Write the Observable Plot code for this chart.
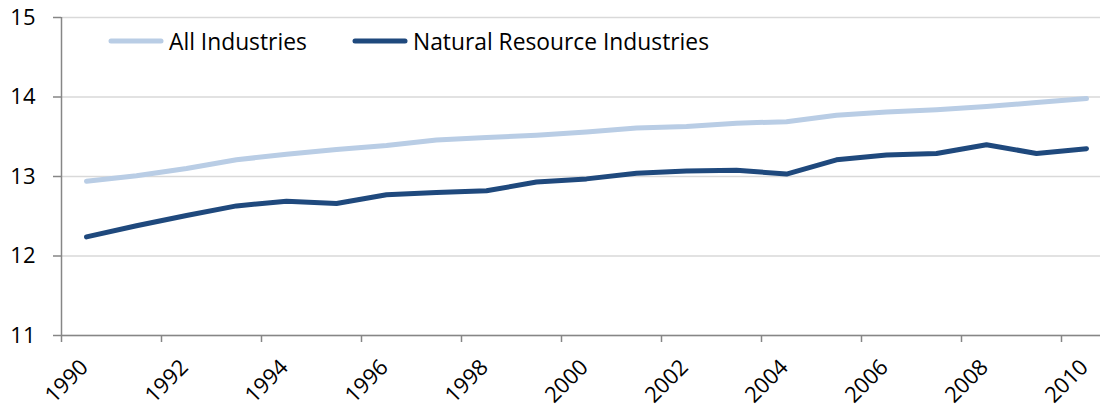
<!DOCTYPE html>
<html>
<head>
<meta charset="utf-8">
<script src="https://cdn.jsdelivr.net/npm/d3@7"></script>
<script src="https://cdn.jsdelivr.net/npm/@observablehq/plot@0.6"></script>
<style>
  html, body { margin: 0; padding: 0; background: #fff; }
  #wrap { position: relative; width: 1100px; height: 410px; font-family: "Open Sans", sans-serif; }
  .legend { position: absolute; top: 26px; left: 0; height: 30px; font-size: 22.8px; color: #000; }
  .item { position: absolute; top: 0; display: flex; align-items: center; height: 30px; white-space: nowrap; }
  .item svg { margin-right: 5px; }
</style>
</head>
<body>
<div id="wrap"></div>
<script>
const years = [1990,1991,1992,1993,1994,1995,1996,1997,1998,1999,2000,2001,2002,2003,2004,2005,2006,2007,2008,2009,2010];
const allIndustries = [12.94,13.01,13.10,13.21,13.28,13.34,13.39,13.46,13.49,13.52,13.56,13.61,13.63,13.67,13.69,13.77,13.81,13.84,13.88,13.93,13.98];
const naturalResource = [12.24,12.38,12.51,12.63,12.69,12.66,12.77,12.80,12.82,12.93,12.97,13.04,13.07,13.08,13.03,13.21,13.27,13.29,13.40,13.29,13.35];
const seriesNames = ["All Industries", "Natural Resource Industries"];
const seriesColors = ["#b9cde5", "#1f497d"];
const yTicks = [11, 12, 13, 14, 15];
const xTicks = [1990,1992,1994,1996,1998,2000,2002,2004,2006,2008,2010];

const rows = [];
years.forEach((y, i) => {
  rows.push({year: y, value: allIndustries[i], series: seriesNames[0]});
  rows.push({year: y, value: naturalResource[i], series: seriesNames[1]});
});

const chart = Plot.plot({
  width: 1100,
  height: 410,
  marginLeft: 61,
  marginRight: 0,
  marginTop: 17,
  marginBottom: 75,
  style: {fontFamily: "'Open Sans', sans-serif", fontSize: "22px", color: "#000", background: "#fff"},
  x: {domain: [1990, 2010.78]},
  y: {domain: [11, 15]},
  color: {domain: seriesNames, range: seriesColors},
  marks: [
    Plot.gridY(yTicks, {stroke: "#d9d9d9", strokeOpacity: 1, strokeWidth: 1.5}),
    Plot.ruleY([11], {stroke: "#868686", strokeWidth: 1.5}),
    Plot.ruleX([1990], {stroke: "#868686", strokeWidth: 1.5}),
    Plot.axisY(yTicks, {tickSize: 8, tickPadding: 18, tickFormat: d => String(d), stroke: "#868686", strokeWidth: 1.5, fill: "#000", fontSize: 22, label: null}),
    Plot.axisX(xTicks, {tickSize: 7, tickPadding: 6, tickRotate: -45, tickFormat: d => String(d), stroke: "#868686", strokeWidth: 1.5, fill: "#000", fontSize: 22, label: null, textStroke: null}),
    Plot.line(rows, {x: d => d.year + 0.5, y: "value", z: "series", stroke: "series", strokeWidth: 5, strokeLinecap: "round", strokeLinejoin: "round"})
  ]
});

const wrap = document.getElementById("wrap");
wrap.appendChild(chart);

// shift rotated x tick labels to sit like the reference (end of label to the right of the tick)
d3.select(chart).selectAll("g[aria-label='x-axis tick label'] text")
  .attr("transform", function() { return "translate(23,15) " + (this.getAttribute("transform") || ""); });

const legend = document.createElement("div");
legend.className = "legend";
const lefts = [108, 352];
seriesNames.forEach((name, i) => {
  const item = document.createElement("div");
  item.className = "item";
  item.style.left = lefts[i] + "px";
  item.innerHTML = `<svg width="56" height="10"><line x1="3" y1="5" x2="53" y2="5" stroke="${seriesColors[i]}" stroke-width="5" stroke-linecap="round"/></svg><span>${name}</span>`;
  legend.appendChild(item);
});
wrap.appendChild(legend);
</script>
</body>
</html>
